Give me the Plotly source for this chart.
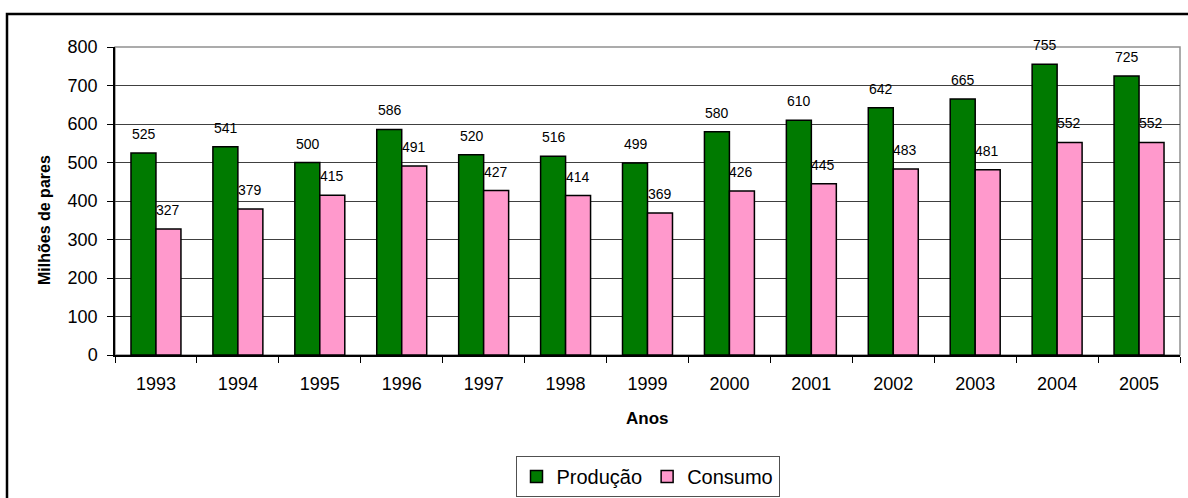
import plotly.graph_objects as go

anos = ["1993", "1994", "1995", "1996", "1997", "1998", "1999", "2000", "2001", "2002", "2003", "2004", "2005"]
producao = [525, 541, 500, 586, 520, 516, 499, 580, 610, 642, 665, 755, 725]
consumo = [327, 379, 415, 491, 427, 414, 369, 426, 445, 483, 481, 552, 552]
y_ticks = [0, 100, 200, 300, 400, 500, 600, 700, 800]

FONT = "Liberation Sans, Arial, sans-serif"
W, H = 1188, 498
L, R, T, B = 115, 8, 47, 143
pw, ph = W - L - R, H - T - B

def px_x(x):
    return (x - L) / pw

def px_y(y):
    return (H - B - y) / ph

idx = list(range(len(anos)))

fig = go.Figure()
fig.add_trace(go.Bar(x=idx, y=producao, name="Produção",
                     marker=dict(color="#007A00", line=dict(color="#000000", width=1.5))))
fig.add_trace(go.Bar(x=idx, y=consumo, name="Consumo",
                     marker=dict(color="#FF99CC", line=dict(color="#000000", width=1.5))))

annotations = []
for i, v in zip(idx, producao):
    annotations.append(dict(x=i, y=v, xref="x", yref="y", text=str(v), showarrow=False,
                            xshift=-12, yshift=9, yanchor="bottom",
                            font=dict(family=FONT, size=14, color="#000000")))
for i, v in zip(idx, consumo):
    annotations.append(dict(x=i, y=v, xref="x", yref="y", text=str(v), showarrow=False,
                            xshift=12, yshift=9, yanchor="bottom",
                            font=dict(family=FONT, size=14, color="#000000")))
annotations.append(dict(x=px_x(44), y=px_y(220), xref="paper", yref="paper", text="<b>Milhões de pares</b>",
                        textangle=-90, showarrow=False, xanchor="center", yanchor="middle",
                        font=dict(family=FONT, size=16, color="#000000")))
annotations.append(dict(x=0.5, y=px_y(418), xref="paper", yref="paper", text="<b>Anos</b>",
                        showarrow=False, xanchor="center", yanchor="middle",
                        font=dict(family=FONT, size=17, color="#000000")))

shapes = [
    dict(type="rect", xref="paper", yref="paper", x0=0, x1=1, y0=0, y1=1,
         line=dict(color="#909090", width=1.5), layer="below"),
    dict(type="rect", xref="paper", yref="paper", x0=px_x(7), x1=px_x(1200), y0=px_y(14), y1=px_y(510),
         line=dict(color="#000000", width=2.5), layer="above"),
]
# category boundary ticks
tick_pos = [i - 0.5 for i in range(len(anos) + 1)]

fig.update_layout(
    width=W, height=H,
    margin=dict(l=L, r=R, t=T, b=B, pad=0, autoexpand=False),
    paper_bgcolor="#FFFFFF", plot_bgcolor="#FFFFFF",
    barmode="group", bargap=0.39, bargroupgap=0,
    font=dict(family=FONT, color="#000000"),
    showlegend=True,
    legend=dict(orientation="h", x=0.5, xanchor="center", y=px_y(456), yanchor="top",
                bordercolor="#505050", borderwidth=1, bgcolor="#FFFFFF",
                font=dict(family=FONT, size=20, color="#000000"),
                itemwidth=30, traceorder="normal"),
    annotations=annotations,
    shapes=shapes,
)
fig.update_xaxes(range=[-0.5, len(anos) - 0.5], tickvals=idx, ticktext=anos,
                 showline=True, linecolor="#000000", linewidth=1.5,
                 ticks="", tickangle=0,
                 tickfont=dict(family=FONT, size=18, color="#000000"), ticklabelstandoff=12,
                 showgrid=False, zeroline=False,
                 minor=dict(tickvals=tick_pos, ticks="outside", ticklen=6, tickcolor="#000000", showgrid=False))
fig.update_yaxes(range=[0, 800], tickvals=y_ticks, showline=True, linecolor="#000000", linewidth=1.5,
                 ticks="outside", ticklen=6, tickcolor="#000000",
                 tickfont=dict(family=FONT, size=18, color="#000000"), ticklabelstandoff=6,
                 showgrid=True, gridcolor="#404040", gridwidth=1, zeroline=False)

fig.write_html("out.html")
